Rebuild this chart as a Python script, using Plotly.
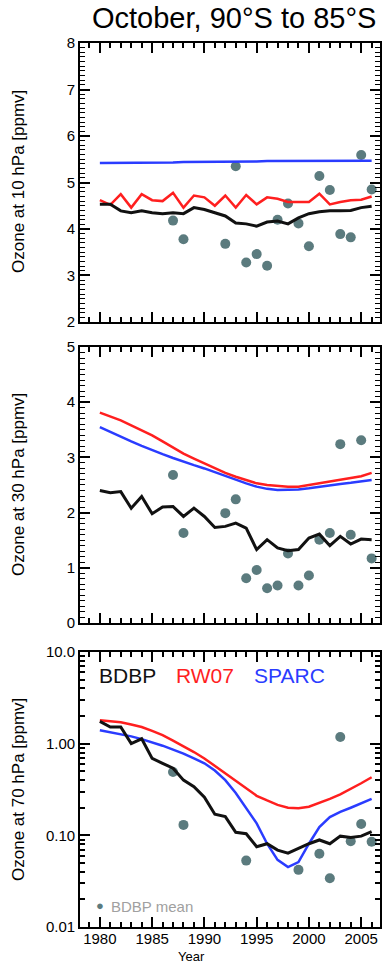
import plotly.graph_objects as go

years = list(range(1980, 2007))

# Panel 1: 10 hPa
p1_sparc = [5.42, 5.42, 5.42, 5.42, 5.43, 5.43, 5.43, 5.43, 5.44, 5.44, 5.44, 5.44, 5.45, 5.45,
            5.45, 5.45, 5.46, 5.46, 5.46, 5.46, 5.46, 5.47, 5.47, 5.47, 5.47, 5.47, 5.47]
p1_rw07 = [4.62, 4.52, 4.75, 4.46, 4.75, 4.62, 4.60, 4.78, 4.46, 4.72, 4.68, 4.50, 4.72, 4.46,
           4.73, 4.53, 4.68, 4.65, 4.58, 4.58, 4.58, 4.76, 4.53, 4.58, 4.62, 4.63, 4.70]
p1_bdbp = [4.53, 4.53, 4.39, 4.35, 4.39, 4.35, 4.33, 4.35, 4.33, 4.46, 4.42, 4.35, 4.28, 4.13,
           4.11, 4.06, 4.15, 4.17, 4.11, 4.24, 4.33, 4.37, 4.39, 4.39, 4.40, 4.46, 4.49]
p1_mean_years = [1987, 1988, 1992, 1993, 1994, 1995, 1996, 1997, 1998, 1999, 2000, 2001, 2002, 2003, 2004, 2005, 2006]
p1_mean = [4.18, 3.78, 3.68, 5.35, 3.28, 3.46, 3.21, 4.20, 4.55, 4.12, 3.63, 5.14, 4.84, 3.89, 3.82, 5.59, 4.85]

# Panel 2: 30 hPa
p2_rw07 = [3.81, 3.74, 3.67, 3.58, 3.49, 3.40, 3.29, 3.18, 3.07, 2.98, 2.89, 2.80, 2.72, 2.65,
           2.59, 2.53, 2.50, 2.48, 2.47, 2.47, 2.50, 2.53, 2.56, 2.59, 2.62, 2.66, 2.72]
p2_sparc = [3.55, 3.46, 3.38, 3.29, 3.21, 3.13, 3.06, 2.99, 2.92, 2.86, 2.80, 2.73, 2.66, 2.59,
            2.53, 2.47, 2.43, 2.41, 2.41, 2.42, 2.44, 2.47, 2.49, 2.52, 2.54, 2.56, 2.59]
p2_bdbp = [2.40, 2.36, 2.38, 2.08, 2.29, 1.98, 2.10, 2.11, 1.93, 2.08, 1.93, 1.73, 1.75, 1.81,
           1.72, 1.33, 1.51, 1.36, 1.31, 1.33, 1.54, 1.61, 1.40, 1.57, 1.43, 1.52, 1.51]
p2_mean_years = [1987, 1988, 1992, 1993, 1994, 1995, 1996, 1997, 1998, 1999, 2000, 2001, 2002, 2003, 2004, 2005, 2006]
p2_mean = [2.68, 1.63, 1.99, 2.24, 0.81, 0.96, 0.63, 0.68, 1.26, 0.68, 0.86, 1.51, 1.63, 3.24, 1.60, 3.31, 1.17]

# Panel 3: 70 hPa
p3_rw07 = [1.80, 1.76, 1.71, 1.62, 1.52, 1.38, 1.24, 1.08, 0.94, 0.81, 0.69, 0.57, 0.47, 0.39,
           0.32, 0.27, 0.24, 0.215, 0.20, 0.198, 0.205, 0.225, 0.25, 0.28, 0.32, 0.37, 0.43]
p3_sparc = [1.40, 1.33, 1.27, 1.20, 1.12, 1.04, 0.95, 0.86, 0.78, 0.69, 0.61, 0.51, 0.40, 0.29,
            0.20, 0.135, 0.081, 0.054, 0.045, 0.051, 0.081, 0.123, 0.158, 0.18, 0.20, 0.225, 0.25]
p3_bdbp = [1.75, 1.52, 1.52, 1.00, 1.13, 0.69, 0.61, 0.54, 0.40, 0.34, 0.26, 0.17, 0.16, 0.108,
           0.104, 0.075, 0.081, 0.069, 0.064, 0.072, 0.081, 0.089, 0.081, 0.098, 0.095, 0.098, 0.11]
p3_mean_years = [1987, 1988, 1994, 1999, 2001, 2002, 2003, 2004, 2005, 2006]
p3_mean = [0.49, 0.13, 0.053, 0.042, 0.063, 0.034, 1.18, 0.086, 0.133, 0.085]

log_tickvals = [0.01, 0.1, 1, 10]
log_ticktext = ["0.01", "0.10", "1.00", "10.0"]
log_minorvals = [m * d for d in (0.01, 0.1, 1) for m in range(2, 10)]

BLACK = "#111111"
RED = "#ff1f1f"
BLUE = "#2a3cff"
DOT = "#5b7b7e"
TICK = "#000000"

fig = go.Figure()

def add_panel(n, bdbp, rw07, sparc, myears, mean):
    xa = "x" if n == 1 else f"x{n}"
    ya = "y" if n == 1 else f"y{n}"
    fig.add_trace(go.Scatter(x=myears, y=mean, mode="markers",
                             marker=dict(color=DOT, size=10), xaxis=xa, yaxis=ya, showlegend=False))
    fig.add_trace(go.Scatter(x=years, y=sparc, mode="lines", line=dict(color=BLUE, width=2.5),
                             xaxis=xa, yaxis=ya, showlegend=False))
    fig.add_trace(go.Scatter(x=years, y=rw07, mode="lines", line=dict(color=RED, width=2.5),
                             xaxis=xa, yaxis=ya, showlegend=False))
    fig.add_trace(go.Scatter(x=years, y=bdbp, mode="lines", line=dict(color=BLACK, width=3),
                             xaxis=xa, yaxis=ya, showlegend=False))
    # twin (top/right) axes carry the mirrored major and minor ticks
    fig.add_trace(go.Scatter(x=[], y=[], xaxis=f"x{n+3}", yaxis=f"y{n+3}",
                             showlegend=False, hoverinfo="skip"))

add_panel(1, p1_bdbp, p1_rw07, p1_sparc, p1_mean_years, p1_mean)
add_panel(2, p2_bdbp, p2_rw07, p2_sparc, p2_mean_years, p2_mean)
add_panel(3, p3_bdbp, p3_rw07, p3_sparc, p3_mean_years, p3_mean)

font = "Liberation Sans, Arial, Helvetica, sans-serif"
XR = [1978.1, 2006.8]

def xaxis(anchor, labels, twin=None):
    d = dict(anchor=anchor, domain=[0, 1], range=XR,
             tickmode="linear", tick0=1980, dtick=5, showticklabels=labels, ticklabelstandoff=-3,
             ticks="inside", ticklen=10, tickwidth=2, tickcolor=TICK,
             minor=dict(ticks="inside", ticklen=5, tickmode="linear", dtick=1, tick0=1980,
                        tickcolor=TICK, tickwidth=1.5, showgrid=False),
             showline=True, linecolor="black", linewidth=1.8,
             showgrid=False, zeroline=False, tickfont=dict(size=15, color="black"))
    if twin:
        d.update(overlaying=twin, side="top", showticklabels=False)
    return d

def yaxis(anchor, domain, rng, dtick, mdtick, logt=False, twin=None):
    d = dict(anchor=anchor, domain=domain, range=rng,
             ticks="inside", ticklen=10, tickwidth=2, tickcolor=TICK,
             showline=True, linecolor="black", linewidth=1.8,
             showgrid=False, zeroline=False, tickfont=dict(size=15, color="black"))
    if logt:
        d.update(type="log", tickmode="array", tickvals=log_tickvals, ticktext=log_ticktext,
                 minor=dict(ticks="inside", ticklen=5, tickcolor=TICK, tickwidth=1.5,
                            tickmode="array", tickvals=log_minorvals, showgrid=False))
    else:
        d.update(tickmode="linear", tick0=0, dtick=dtick,
                 minor=dict(ticks="inside", ticklen=5, tickmode="linear", dtick=mdtick, tick0=0,
                            tickcolor=TICK, tickwidth=1.4, showgrid=False))
    if twin:
        d.update(overlaying=twin, side="right", showticklabels=False)
    return d

D1, D2, D3 = [0.6844, 1.0], [0.3439, 0.6561], [0.0, 0.3111]
fig.update_layout(
    width=385, height=963,
    margin=dict(l=80, r=5, t=43, b=36),
    paper_bgcolor="white", plot_bgcolor="white",
    font=dict(family=font, color="black"),
    xaxis=xaxis("y", False),
    yaxis=yaxis("x", D1, [2, 8], 1, 0.1),
    xaxis2=xaxis("y2", False),
    yaxis2=yaxis("x2", D2, [0, 5], 1, 0.1),
    xaxis3=xaxis("y3", True),
    yaxis3=yaxis("x3", D3, [-2, 1], None, None, logt=True),
    xaxis4=xaxis("y", False, twin="x"),
    yaxis4=yaxis("x", D1, [2, 8], 1, 0.1, twin="y"),
    xaxis5=xaxis("y2", False, twin="x2"),
    yaxis5=yaxis("x2", D2, [0, 5], 1, 0.1, twin="y2"),
    xaxis6=xaxis("y3", False, twin="x3"),
    yaxis6=yaxis("x3", D3, [-2, 1], None, None, logt=True, twin="y3"),
)

anns = [
    dict(text="October, 90°S to 85°S", x=234, y=18, font=dict(size=29)),
    dict(text="Ozone at 10 hPa [ppmv]", x=18, y=182, font=dict(size=17), textangle=-90),
    dict(text="Ozone at 30 hPa [ppmv]", x=18, y=485, font=dict(size=17), textangle=-90),
    dict(text="Ozone at 70 hPa [ppmv]", x=18, y=790, font=dict(size=17), textangle=-90),
    dict(text="Year", x=191, y=956, font=dict(size=13)),
    dict(text="BDBP", x=127, y=675, font=dict(size=21, color=BLACK)),
    dict(text="RW07", x=205, y=675, font=dict(size=21, color=RED)),
    dict(text="SPARC", x=289, y=675, font=dict(size=21, color=BLUE)),
    dict(text="●", x=100, y=905, font=dict(size=13, color=DOT)),
    dict(text="BDBP mean", x=109, y=906, font=dict(size=15, color="#a0a0a0"), xanchor="left"),
]
W, H, L, T, B = 385, 963, 80, 43, 36
for a in anns:
    px, py = a.pop("x"), a.pop("y")
    a.setdefault("xanchor", "center")
    fig.add_annotation(xref="paper", yref="paper",
                       x=(px - L) / (W - L - 5), y=(H - B - py) / (H - T - B),
                       yanchor="middle", showarrow=False, **a)

fig.write_html("out.html", config={"displayModeBar": False},
               post_script="document.body.style.margin='0';document.body.style.overflow='hidden';")
